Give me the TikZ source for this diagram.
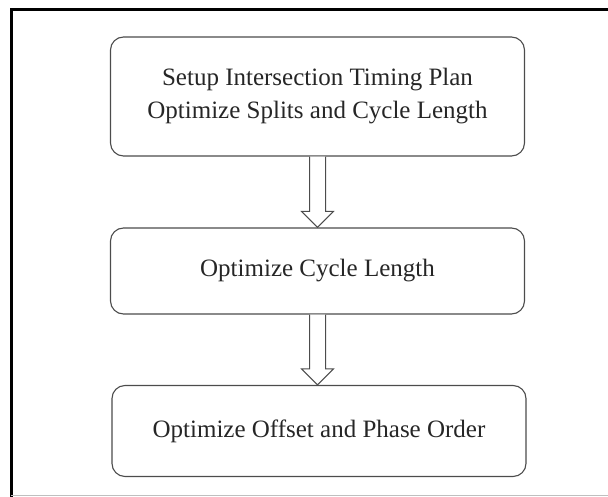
\documentclass[tikz,border=0pt]{standalone}
\usepackage{fontspec}
\setmainfont{Liberation Serif}
\usetikzlibrary{calc}
\tikzset{
  stepbox/.style={draw=black!70, line width=1.1pt, rounded corners=13pt, inner sep=0pt, align=center,
    font=\fontsize{25}{33}\selectfont, text=black!85},
  hollow/.style={draw=black!70, line width=1pt, fill=white, line join=miter},
}
\begin{document}
\begin{tikzpicture}[x=1pt,y=-1pt]
\useasboundingbox (0,0) rectangle (608,497);
% frame
\draw[black, line width=3pt] (11,497) -- (11,10) -- (608,10);
\draw[black!25, line width=1pt] (11,495.5) -- (608,495.5);
% boxes
\node[stepbox, minimum width=414pt, minimum height=119pt] (b1) at (317.5,96.5)
  {Setup Intersection Timing Plan\\Optimize Splits and Cycle Length};
\node[stepbox, minimum width=414pt, minimum height=86pt] (b2) at (317.5,271)
  {Optimize Cycle Length};
\node[stepbox, minimum width=414pt, minimum height=91pt] (b3) at (319,431)
  {Optimize Offset and Phase Order};
% hollow arrows
\foreach \a/\b in {b1/b2, b2/b3}{
  \draw[hollow]
    let \p1=(\a.south), \p2=(\b.north) in
    (\x1-8pt,\y1) -- (\x1-8pt,\y2+16pt) -- (\x1-16pt,\y2+16pt)
    -- (\x1,\y2) -- (\x1+16pt,\y2+16pt) -- (\x1+8pt,\y2+16pt)
    -- (\x1+8pt,\y1);
}
\end{tikzpicture}
\end{document}
